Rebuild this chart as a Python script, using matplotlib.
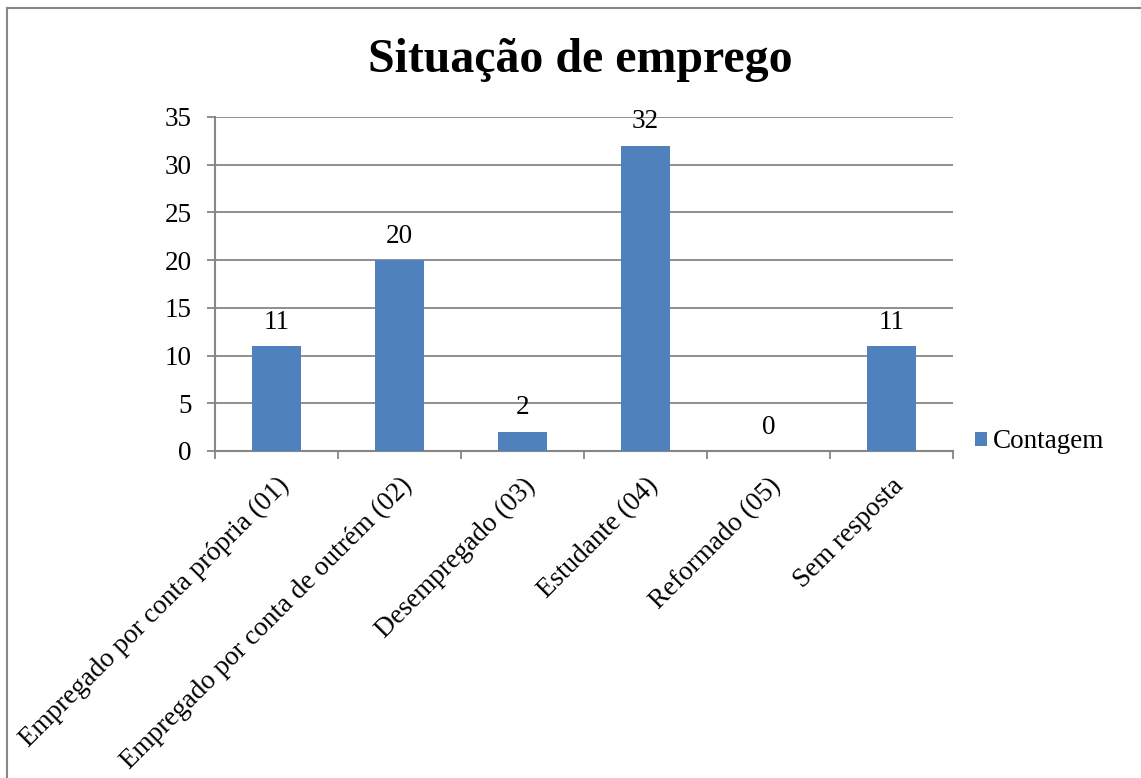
import matplotlib
matplotlib.use("Agg")
import matplotlib.pyplot as plt
from matplotlib.lines import Line2D
import numpy as np

categories = ["Empregado por conta própria (01)",
              "Empregado por conta de outrém (02)",
              "Desempregado (03)",
              "Estudante (04)",
              "Reformado (05)",
              "Sem resposta"]
contagem = [11, 20, 2, 32, 0, 11]
yticks = [0, 5, 10, 15, 20, 25, 30, 35]

plt.rcParams['font.family'] = ['Liberation Serif', 'DejaVu Serif']

W, H = 1141, 778
fig = plt.figure(figsize=(W / 100, H / 100), dpi=100)
ax = fig.add_axes([215 / W, 1 - 451 / H, (953 - 215) / W, (451 - 117) / H])

gray = '#868686'
blue = '#4F81BD'
fs = 19.5

x = np.arange(len(categories))
bars = ax.bar(x, contagem, width=0.4, color=blue, label='Contagem', zorder=3)
for xi, v in zip(x, contagem):
    ax.text(xi, v + 1.2, str(v), ha='center', va='bottom', fontsize=fs)

ax.set_xlim(-0.5, len(categories) - 0.5)
ax.set_ylim(0, 35)
ax.set_yticks(yticks)
ax.yaxis.grid(True, color=gray, linewidth=1.3, zorder=0)
ax.tick_params(axis='y', labelsize=fs, length=6, color=gray, width=1.3, direction='out', pad=11)

# ticks between categories, labels at centres
ax.set_xticks(np.arange(len(categories) + 1) - 0.5)
ax.set_xticklabels([])
ax.tick_params(axis='x', which='major', length=6, color=gray, width=1.3, direction='out')
ax.set_xticks(x, minor=True)
ax.set_xticklabels(categories, minor=True, rotation=45, ha='right', va='top',
                   rotation_mode='anchor', fontsize=fs)
ax.tick_params(axis='x', which='minor', length=0, pad=16)

for s in ['top', 'right']:
    ax.spines[s].set_visible(False)
for s in ['left', 'bottom']:
    ax.spines[s].set_color(gray)
    ax.spines[s].set_linewidth(1.5)

fig.text(580 / W, 1 - 60 / H, "Situação de emprego", ha='center', va='center',
         fontsize=34.5, fontweight='bold')

fig.legend(handles=[bars], loc='center left', bbox_to_anchor=(975 / W, 1 - 442 / H),
           frameon=False, fontsize=fs, handlelength=0.45, handleheight=0.45,
           handletextpad=0.2, borderaxespad=0, borderpad=0)

# border of the chart area (only top and left are visible)
fig.add_artist(Line2D([7 / W, 7 / W], [0, 1 - 8 / H], color=gray, linewidth=1.5))
fig.add_artist(Line2D([7 / W, 1], [1 - 8 / H, 1 - 8 / H], color=gray, linewidth=1.5))

fig.savefig("out.png", dpi=100)
